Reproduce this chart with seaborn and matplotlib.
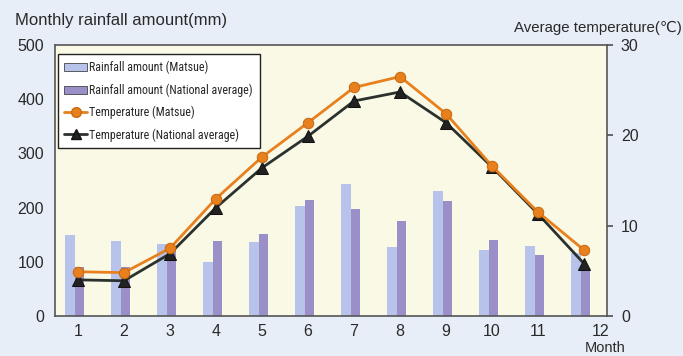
import matplotlib
matplotlib.use("Agg")
import matplotlib.pyplot as plt
from matplotlib import font_manager as fm
from matplotlib.patches import Patch
from matplotlib.lines import Line2D
import seaborn as sns
import pandas as pd
import numpy as np

months = list(range(1, 13))
month_labels = [str(m) for m in months]
rain_matsue = [150, 139, 133, 100, 136, 203, 243, 128, 230, 121, 129, 117]
rain_national = [91, 91, 130, 139, 151, 214, 197, 175, 213, 140, 112, 87]
temp_matsue = [4.9, 4.8, 7.5, 13.0, 17.6, 21.4, 25.3, 26.5, 22.4, 16.6, 11.5, 7.3]
temp_national = [4.0, 3.9, 6.9, 12.0, 16.4, 19.9, 23.8, 24.8, 21.4, 16.5, 11.3, 5.8]
series_names = ["Rainfall amount (Matsue)", "Rainfall amount (National average)",
                "Temperature (Matsue)", "Temperature (National average)"]
left_label = "Monthly rainfall amount(mm)"
right_label = "Average temperature(\u2103)"
x_label = "Month"

sns.set_theme(style="white")
plt.rcParams['font.family'] = ['Liberation Sans', 'DejaVu Sans']

fonts = fm.fontManager.ttflist
names = {f.name for f in fonts}
cond_dejavu = any(f.name == 'DejaVu Sans' and f.stretch in ('condensed', 600, 'semi-condensed')
                  for f in fonts) or any('Condensed' in f.fname and 'DejaVuSans' in f.fname for f in fonts)
if 'Liberation Sans Narrow' in names:
    legend_font = dict(family=['Liberation Sans Narrow', 'DejaVu Sans'], size=8.6)
    lab_sp = 0.75
elif 'Roboto Condensed' in names:
    legend_font = dict(family=['Roboto Condensed', 'DejaVu Sans'], size=8.6)
    lab_sp = 0.75
elif cond_dejavu:
    legend_font = dict(family=['DejaVu Sans'], stretch='condensed', size=7.8)
    lab_sp = 0.8
else:
    legend_font = dict(family=['Liberation Sans', 'DejaVu Sans'], size=7.5)
    lab_sp = 0.9

c_matsue_bar = "#b7c3ea"
c_nat_bar = "#9a8fc6"
c_matsue_line = "#e8801e"
c_nat_line = "#2b312c"
txt = "#2a2a2a"

fig = plt.figure(figsize=(6.83, 3.56), dpi=100)
fig.patch.set_facecolor("#e8eef8")
ax = fig.add_axes([55/683, 1-316/356, 552/683, 271/356])
ax.set_facecolor("#f9f9e6")

df = pd.DataFrame({
    "pos": [m - 0.07 for m in months] * 2,
    "rain": rain_matsue + rain_national,
    "series": [series_names[0]] * 12 + [series_names[1]] * 12,
})
sns.barplot(data=df, x="pos", y="rain", hue="series", hue_order=series_names[:2],
            palette=[c_matsue_bar, c_nat_bar], native_scale=True, width=0.42,
            dodge=True, errorbar=None, legend=False, ax=ax, linewidth=0,
            saturation=1)

ax.set_xlim(0.5, 12.5)
ax.set_ylim(0, 500)
ax.set_yticks(range(0, 501, 100))
ax.set_xticks(months)
ax.set_xticklabels(month_labels[:11] + [""])
ax.set_xticks(np.arange(1.5, 12, 1), minor=True)
ax.tick_params(axis='x', which='major', length=0, labelsize=11.5, colors=txt, pad=6)
ax.tick_params(axis='x', which='minor', length=3, direction='in', color='#555555', width=1)
ax.tick_params(axis='y', length=0, labelsize=11.5, colors=txt, pad=8)
ax.set_xlabel("")
ax.set_ylabel("")
for s in ax.spines.values():
    s.set_color("#555555")
    s.set_linewidth(1.2)

ax.annotate(month_labels[11], xy=(12, 0), xycoords=('data', 'axes fraction'),
            xytext=(12, -6), textcoords='offset points', ha='center', va='top',
            fontsize=11.5, color=txt)
ax.annotate(x_label, xy=(12, 0), xycoords=('data', 'axes fraction'),
            xytext=(15, -18), textcoords='offset points', ha='center', va='top',
            fontsize=10.5, color=txt)

ax2 = ax.twinx()
sns.lineplot(x=months, y=temp_national, ax=ax2, color=c_nat_line, marker='^',
             markersize=8, markeredgecolor='#111111', markerfacecolor='#222222',
             linewidth=2)
sns.lineplot(x=months, y=temp_matsue, ax=ax2, color=c_matsue_line, marker='o',
             markersize=7.5, markeredgecolor='#c86a10', markerfacecolor=c_matsue_line,
             linewidth=2)
ax2.set_ylim(0, 30)
ax2.set_yticks([0, 10, 20, 30])
ax2.tick_params(axis='y', length=4, direction='out', color='#555555', labelsize=11.5,
                colors=txt, pad=6)
ax2.set_ylabel("")
for s in ax2.spines.values():
    s.set_visible(False)

fig.text(15/683, 1-20/356, left_label, ha='left', va='center', fontsize=12, color=txt)
fig.text(682/683, 1-28/356, right_label, ha='right', va='center', fontsize=10.8, color=txt)

handles = [
    Patch(facecolor=c_matsue_bar, edgecolor='#444444', linewidth=0.6),
    Patch(facecolor=c_nat_bar, edgecolor='#444444', linewidth=0.6),
    Line2D([], [], color=c_matsue_line, marker='o', markersize=7,
           markeredgecolor='#c86a10', linewidth=2),
    Line2D([], [], color=c_nat_line, marker='^', markersize=7,
           markerfacecolor='#222222', markeredgecolor='#111111', linewidth=2),
]
leg = ax2.legend(handles, series_names, loc='upper left', bbox_to_anchor=(0.005, 0.965),
                 fancybox=False, framealpha=1, edgecolor='#222222', facecolor='white',
                 prop=legend_font, handlelength=1.9, handletextpad=0.2,
                 borderpad=0.55, labelspacing=lab_sp, borderaxespad=0)
leg.get_frame().set_linewidth(1.0)

fig.savefig("out.png", dpi=100, facecolor=fig.get_facecolor())
